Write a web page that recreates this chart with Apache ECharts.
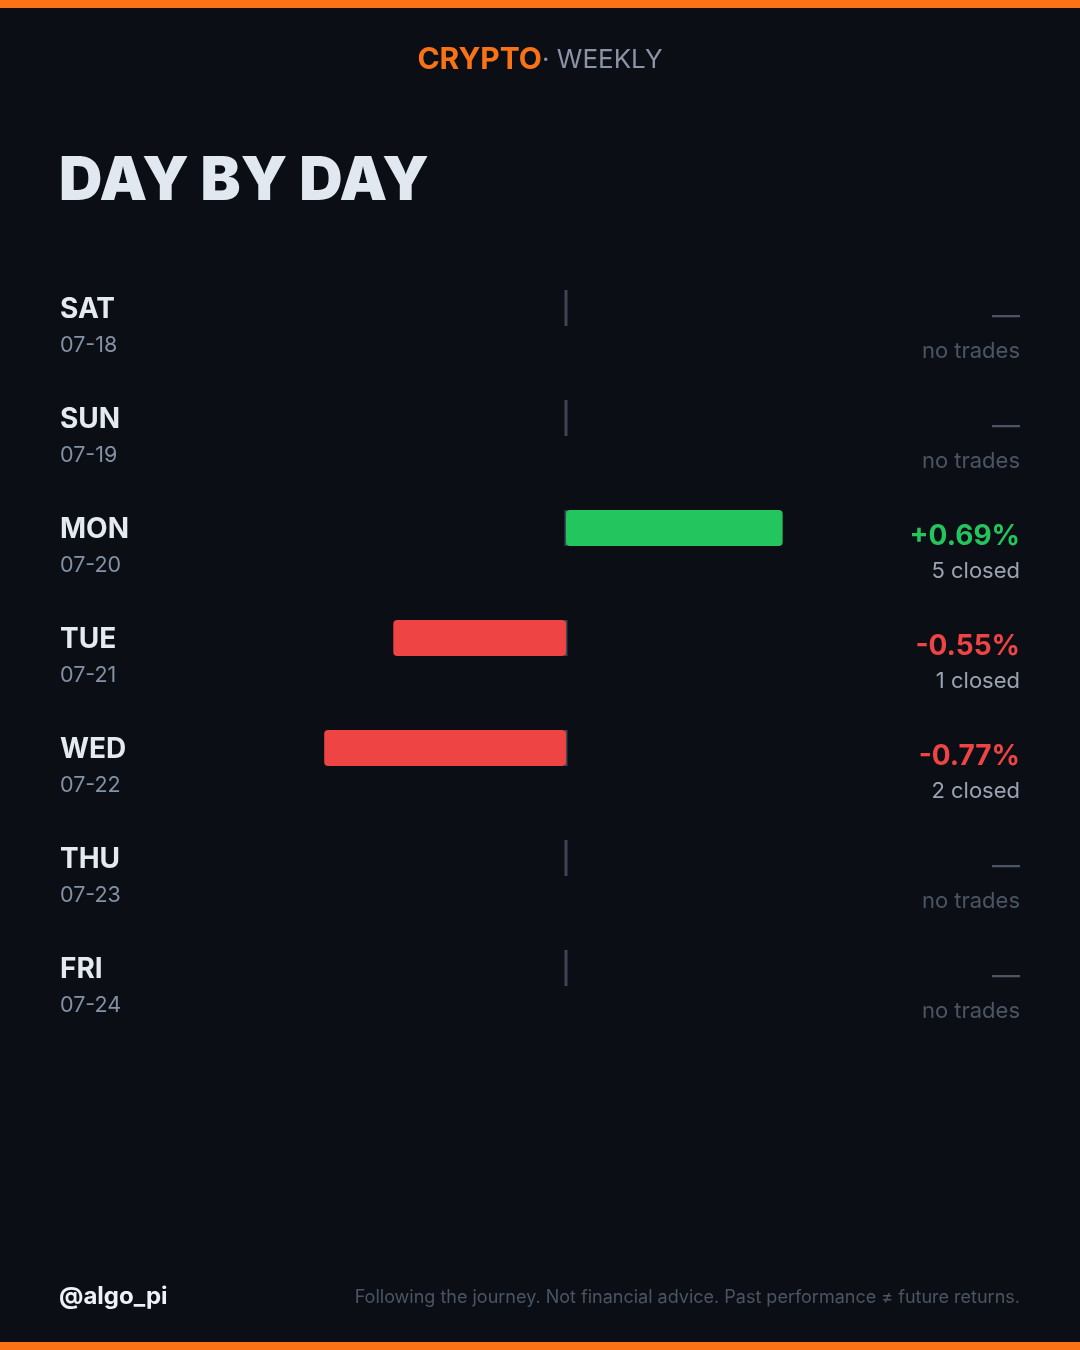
<!DOCTYPE html>
<html>
<head>
<meta charset="utf-8">
<script src="https://cdn.jsdelivr.net/npm/echarts@6/dist/echarts.min.js"></script>
<style>
  html, body { margin: 0; padding: 0; background: #0b0e14; }
  #chart { width: 1080px; height: 1350px; }
</style>
</head>
<body>
<div id="chart"></div>
<script>
const days = ['SAT', 'SUN', 'MON', 'TUE', 'WED', 'THU', 'FRI'];
const dates = ['07-18', '07-19', '07-20', '07-21', '07-22', '07-23', '07-24'];
const returns = [null, null, 0.69, -0.55, -0.77, null, null];
const closedCounts = [0, 0, 5, 1, 2, 0, 0];
const zeroTicks = [0, 0, 0, 0, 0, 0, 0];

const GREEN = '#22c55e';
const RED = '#ef4444';
const FONT = 'Inter, "Noto Sans", sans-serif';

const chart = echarts.init(document.getElementById('chart'));

function fmtPct(v) {
  return (v > 0 ? '+' : '') + v.toFixed(2) + '%';
}

chart.setOption({
  backgroundColor: '#0b0e14',
  animation: false,
  textStyle: { fontFamily: FONT },
  title: [
    {
      text: '{a|CRYPTO}{b|· WEEKLY}',
      left: 'center',
      top: 40,
      textStyle: {
        rich: {
          a: { fontFamily: FONT, fontSize: 30, fontWeight: 700, color: '#f97316' },
          b: { fontFamily: FONT, fontSize: 26, fontWeight: 400, color: '#8a94a6' }
        }
      }
    },
    {
      text: 'DAY BY DAY',
      left: 54,
      top: 147,
      textStyle: { fontFamily: FONT, fontSize: 60, fontWeight: 900, color: '#e2e8f0' }
    },
    {
      text: '@algo_pi',
      left: 54,
      top: 1280,
      textStyle: { fontFamily: FONT, fontSize: 24, fontWeight: 700, color: '#eef2f7' }
    },
    {
      text: 'Following the journey. Not financial advice. Past performance ≠ future returns.',
      right: 55,
      top: 1284,
      textStyle: { fontFamily: FONT, fontSize: 18, fontWeight: 400, color: '#4b5563' }
    }
  ],
  graphic: [
    { type: 'rect', left: 0, top: 0, shape: { width: 1080, height: 8 }, style: { fill: '#f97316' } },
    { type: 'rect', left: 0, top: 1342, shape: { width: 1080, height: 8 }, style: { fill: '#f97316' } }
  ],
  grid: { left: 252, right: 200, top: 253, height: 770 },
  xAxis: {
    type: 'value',
    min: -1,
    max: 1,
    show: false
  },
  yAxis: [
    {
      type: 'category',
      data: days,
      inverse: true,
      axisLine: { show: false },
      axisTick: { show: false },
      splitLine: { show: false },
      axisLabel: {
        align: 'left',
        margin: 192,
        padding: [40, 0, 0, 0],
        formatter: function (v, i) {
          return '{d|' + v + '}\n{t|' + dates[i] + '}';
        },
        rich: {
          d: { fontFamily: FONT, fontSize: 28, fontWeight: 700, color: '#e5e9f0', lineHeight: 36 },
          t: { fontFamily: FONT, fontSize: 21.5, fontWeight: 400, color: '#8391a5', lineHeight: 36 }
        }
      }
    },
    {
      type: 'category',
      data: days,
      inverse: true,
      position: 'right',
      axisLine: { show: false },
      axisTick: { show: false },
      splitLine: { show: false },
      axisLabel: {
        align: 'right',
        margin: 140,
        padding: [51, 0, 0, 0],
        formatter: function (v, i) {
          const r = returns[i];
          if (r === null) {
            return '{dash|—}\n{none|no trades}';
          }
          const key = r >= 0 ? 'pos' : 'neg';
          return '{' + key + '|' + fmtPct(r) + '}\n{sub|' + closedCounts[i] + ' closed}';
        },
        rich: {
          pos: { fontFamily: FONT, fontSize: 28, fontWeight: 700, color: GREEN, lineHeight: 36, align: 'right' },
          neg: { fontFamily: FONT, fontSize: 28, fontWeight: 700, color: RED, lineHeight: 36, align: 'right' },
          sub: { fontFamily: FONT, fontSize: 22, fontWeight: 400, color: '#9aa3b2', lineHeight: 33, align: 'right' },
          dash: { fontFamily: FONT, fontSize: 28, fontWeight: 400, color: '#4b5563', lineHeight: 36, align: 'right' },
          none: { fontFamily: FONT, fontSize: 22, fontWeight: 400, color: '#4b5563', lineHeight: 33, align: 'right' }
        }
      }
    }
  ],
  series: [
    {
      type: 'scatter',
      yAxisIndex: 0,
      data: zeroTicks,
      symbol: 'rect',
      symbolSize: [3, 36],
      itemStyle: { color: '#4b5563' },
      z: 1,
      silent: true
    },
    {
      type: 'bar',
      yAxisIndex: 0,
      barWidth: 36,
      z: 2,
      data: returns.map(function (r) {
        if (r === null) return null;
        return {
          value: r,
          itemStyle: {
            color: r >= 0 ? GREEN : RED,
            borderRadius: 4
          }
        };
      })
    }
  ]
});
</script>
</body>
</html>
